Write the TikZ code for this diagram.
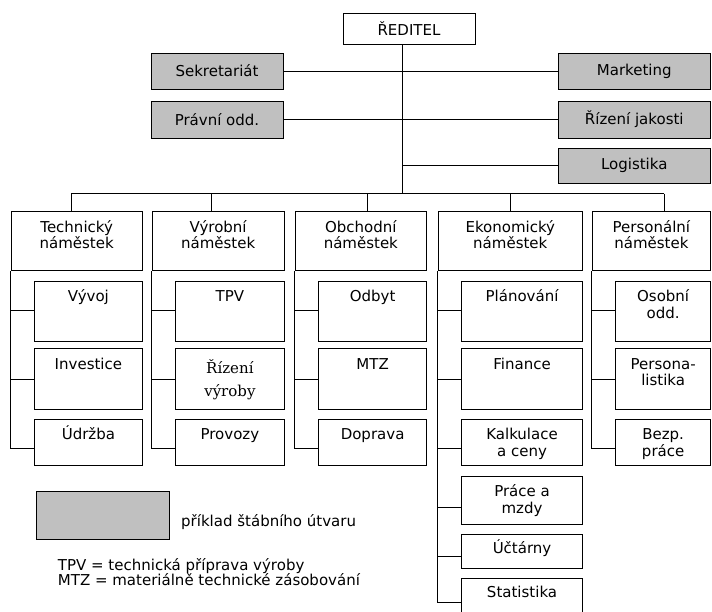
\documentclass[tikz,border=0pt]{standalone}
\usepackage{fontspec}
\setmainfont{DejaVu Sans}
\newfontfamily\plainserif{DejaVu Serif}
\definecolor{staffgray}{RGB}{192,192,192}
\tikzset{
  unit/.style={draw, line width=1pt, inner sep=0pt, fill=white},
  staff/.style={unit, fill=staffgray},
  txt/.style={anchor=north, inner sep=0pt, yshift=-6pt, align=center},
  txtserif/.style={anchor=north, inner sep=0pt, yshift=-10.7pt, align=center,
    font=\plainserif\fontsize{15}{23}\selectfont},
  conn/.style={line width=1pt},
  head/.style={unit, minimum height=58.3pt},
}
\newcommand\tstrut{\rule{0pt}{15pt}}
\begin{document}
\begin{tikzpicture}[x=1pt, y=-1pt, font=\fontsize{15}{16.5}\selectfont]
\path[use as bounding box, clip] (0,0) rectangle (712,611);

% director and staff units
\node[unit, minimum width=132pt, minimum height=31pt] (reditel) at (409,28.5) {ŘEDITEL};
\node[staff, minimum width=132pt, minimum height=36pt] (sekretariat) at (217,71) {Sekretariát};
\node[staff, minimum width=132pt, minimum height=37pt] (pravni) at (217,119.5) {Právní odd.};
\node[staff, minimum width=152.5pt, minimum height=36pt] (marketing) at (634.25,71) {Marketing};
\node[staff, minimum width=152.5pt, minimum height=37pt] (jakost) at (634.25,119.5) {Řízení jakosti};
\node[staff, minimum width=152.5pt, minimum height=35pt] (logistika) at (634.25,165.8) {Logistika};

\coordinate (spine) at (402.5,193.5);
\coordinate (busL) at (71,193.5);
\coordinate (busR) at (664,193.5);
\coordinate (t2) at (211.7,193.5);
\coordinate (t3) at (367.3,193.5);
\coordinate (t4) at (510,193.5);

\draw[conn] (reditel.south -| spine) -- (spine);
\draw[conn] (sekretariat.east) -- (marketing.west);
\draw[conn] (pravni.east) -- (jakost.west);
\draw[conn] (logistika.west) -- (logistika.west -| spine);
\draw[conn] (busL) -- (busR);

% deputies
\node[head, minimum width=131.3pt, label={[txt]north:{\tstrut Technický\\náměstek}}] (tech) at (76.65,240.85) {};
\node[head, minimum width=131.7pt, label={[txt]north:{\tstrut Výrobní\\náměstek}}] (vyr) at (218.15,240.85) {};
\node[head, minimum width=131.7pt, label={[txt]north:{\tstrut Obchodní\\náměstek}}] (obch) at (360.85,240.85) {};
\node[head, minimum width=144pt, label={[txt]north:{\tstrut Ekonomický\\náměstek}}] (ekon) at (510.3,240.85) {};
\node[head, minimum width=118.2pt, label={[txt]north:{\tstrut Personální\\náměstek}}] (pers) at (651.4,240.85) {};

\draw[conn] (busL) -- (busL |- tech.north);
\draw[conn] (t2) -- (t2 |- vyr.north);
\draw[conn] (t3) -- (t3 |- obch.north);
\draw[conn] (t4) -- (t4 |- ekon.north);
\draw[conn] (busR) -- (busR |- pers.north);

% technical departments
\node[unit, minimum width=107.8pt, minimum height=60pt, label={[txt]north:\tstrut Vývoj}] (vyvoj) at (88.4,311) {};
\node[unit, minimum width=107.8pt, minimum height=60.7pt, label={[txt]north:\tstrut Investice}] (investice) at (88.4,378.65) {};
\node[unit, minimum width=107.8pt, minimum height=46.7pt, label={[txt]north:\tstrut Údržba}] (udrzba) at (88.4,442.35) {};

% production departments
\node[unit, minimum width=108.2pt, minimum height=60pt, label={[txt]north:\tstrut TPV}] (tpv) at (229.9,311) {};
\node[unit, minimum width=108.2pt, minimum height=60.7pt, label={[txtserif]north:{\tstrut Řízení\\výroby}}] (rizeni) at (229.9,378.65) {};
\node[unit, minimum width=108.2pt, minimum height=46.7pt, label={[txt]north:\tstrut Provozy}] (provozy) at (229.9,442.35) {};

% commercial departments
\node[unit, minimum width=108.2pt, minimum height=60pt, label={[txt]north:\tstrut Odbyt}] (odbyt) at (372.6,311) {};
\node[unit, minimum width=108.2pt, minimum height=60.7pt, label={[txt]north:\tstrut MTZ}] (mtz) at (372.6,378.65) {};
\node[unit, minimum width=108.2pt, minimum height=46.7pt, label={[txt]north:\tstrut Doprava}] (doprava) at (372.6,442.35) {};

% economic departments
\node[unit, minimum width=120.5pt, minimum height=60pt, label={[txt]north:\tstrut Plánování}] (planovani) at (522.05,311) {};
\node[unit, minimum width=120.5pt, minimum height=60.7pt, label={[txt]north:\tstrut Finance}] (finance) at (522.05,378.65) {};
\node[unit, minimum width=120.5pt, minimum height=46.7pt, label={[txt]north:{\tstrut Kalkulace\\a ceny}}] (kalkulace) at (522.05,442.35) {};
\node[unit, minimum width=120.5pt, minimum height=48pt, label={[txt]north:{\tstrut Práce a\\mzdy}}] (mzdy) at (522.05,500) {};
\node[unit, minimum width=120.5pt, minimum height=34pt, label={[txt, yshift=2pt]north:\tstrut Účtárny}] (uctarny) at (522.05,551.3) {};
\node[unit, minimum width=120.5pt, minimum height=37.3pt, label={[txt, yshift=2pt]north:\tstrut Statistika}] (statistika) at (522.05,597.35) {};

% personnel departments
\node[unit, minimum width=94.7pt, minimum height=60pt, label={[txt]north:{\tstrut Osobní\\odd.}}] (osobni) at (663.15,311) {};
\node[unit, minimum width=94.7pt, minimum height=60.7pt, label={[txt]north:{\tstrut Persona-\\listika}}] (personalistika) at (663.15,378.65) {};
\node[unit, minimum width=94.7pt, minimum height=46.7pt, label={[txt]north:{\tstrut Bezp.\\práce}}] (bezp) at (663.15,442.35) {};

% links from each deputy to its departments
\foreach \col/\a/\b/\c in {tech/vyvoj/investice/udrzba, vyr/tpv/rizeni/provozy,
    obch/odbyt/mtz/doprava, ekon/planovani/finance/kalkulace, pers/osobni/personalistika/bezp} {
  \draw[conn] ([yshift=-30pt]\a.north west) -| (\col.south west);
  \draw[conn] ([yshift=-31.7pt]\b.north west) -| (\col.south west);
  \draw[conn] ([yshift=-30pt]\c.north west) -| (\col.south west);
}
\draw[conn] ([yshift=-31.7pt]mzdy.north west) -| (ekon.south west);
\draw[conn] ([yshift=-23pt]uctarny.north west) -| (ekon.south west);
\draw[conn] ([yshift=-24pt]statistika.north west) -| (ekon.south west);

% legend
\node[staff, minimum width=132.6pt, minimum height=48.3pt] (legendbox) at (102.7,515.2) {};
\node[anchor=base west, inner sep=0pt] (legendtext) at (181,526) {příklad štábního útvaru};
\node[anchor=base west, inner sep=0pt] (tpvnote) at (57.7,570) {TPV = technická příprava výroby};
\node[anchor=base west, inner sep=0pt] (mtznote) at (57.7,585.7) {MTZ = materiálně technické zásobování};
\end{tikzpicture}
\end{document}
